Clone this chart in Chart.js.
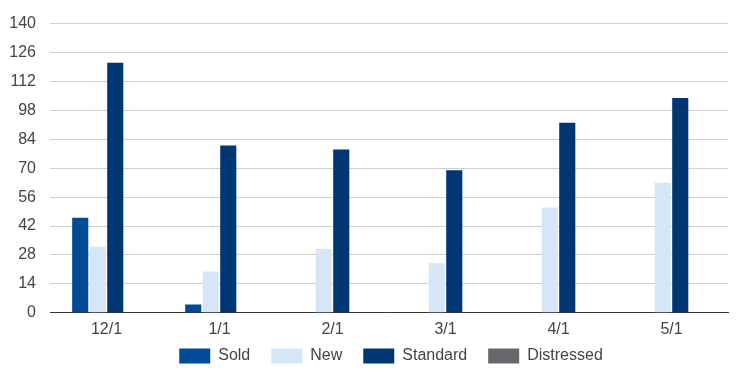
<!DOCTYPE html>
<html>
<head>
<meta charset="utf-8">
<script src="https://cdn.jsdelivr.net/npm/chart.js@4/dist/chart.umd.min.js"></script>
<style>
  html, body { margin: 0; padding: 0; background: #fff; }
  #wrap { width: 746px; height: 379px; position: relative; }
</style>
</head>
<body>
<div id="wrap"><canvas id="chart"></canvas></div>
<script>
const categories = ["12/1", "1/1", "2/1", "3/1", "4/1", "5/1"];
const sold = [46, 4, 0, 0, 0, 0];
const newListings = [32, 20, 31, 24, 51, 63];
const standard = [121, 81, 79, 69, 92, 104];
const distressed = [0, 0, 0, 0, 0, 0];
const yTicks = [0, 14, 28, 42, 56, 70, 84, 98, 112, 126, 140];

const FONT = { family: "Liberation Sans, Arial", size: 16 };

// legend sits centred under the plot area and a bit closer to the axis labels
const moveLegend = {
  id: "moveLegend",
  afterLayout(chart) {
    const lg = chart.legend;
    lg.left += 27; lg.right += 27;
    lg.top -= 19; lg.bottom -= 19;
  }
};

const ctx = document.getElementById("chart").getContext("2d");
new Chart(ctx, {
  type: "bar",
  data: {
    labels: categories,
    datasets: [
      { label: "Sold", data: sold, backgroundColor: "#004a97" },
      { label: "New", data: newListings, backgroundColor: "#d6e6f9" },
      { label: "Standard", data: standard, backgroundColor: "#003671" },
      { label: "Distressed", data: distressed, backgroundColor: "#67686b" }
    ]
  },
  options: {
    responsive: true,
    maintainAspectRatio: false,
    animation: false,
    layout: { padding: { top: 15, right: 18, left: 0, bottom: -14 } },
    datasets: { bar: { categoryPercentage: 0.62, barPercentage: 0.92 } },
    scales: {
      x: {
        grid: { display: false, drawTicks: false },
        border: { color: "#333", width: 1 },
        ticks: { color: "#444", font: FONT, padding: 7 }
      },
      y: {
        min: 0,
        max: 140,
        afterFit: (axis) => { axis.width = 50; },
        afterBuildTicks: (axis) => { axis.ticks = yTicks.map(v => ({ value: v })); },
        grid: { color: "#d0d0d0", drawTicks: false },
        border: { display: false },
        ticks: { color: "#444", font: FONT, padding: 14 }
      }
    },
    plugins: {
      legend: {
        position: "bottom",
        labels: {
          boxWidth: 31,
          boxHeight: 15,
          padding: 21,
          color: "#444",
          font: FONT
        }
      },
      tooltip: { enabled: false }
    }
  },
  plugins: [moveLegend]
});
</script>
</body>
</html>
